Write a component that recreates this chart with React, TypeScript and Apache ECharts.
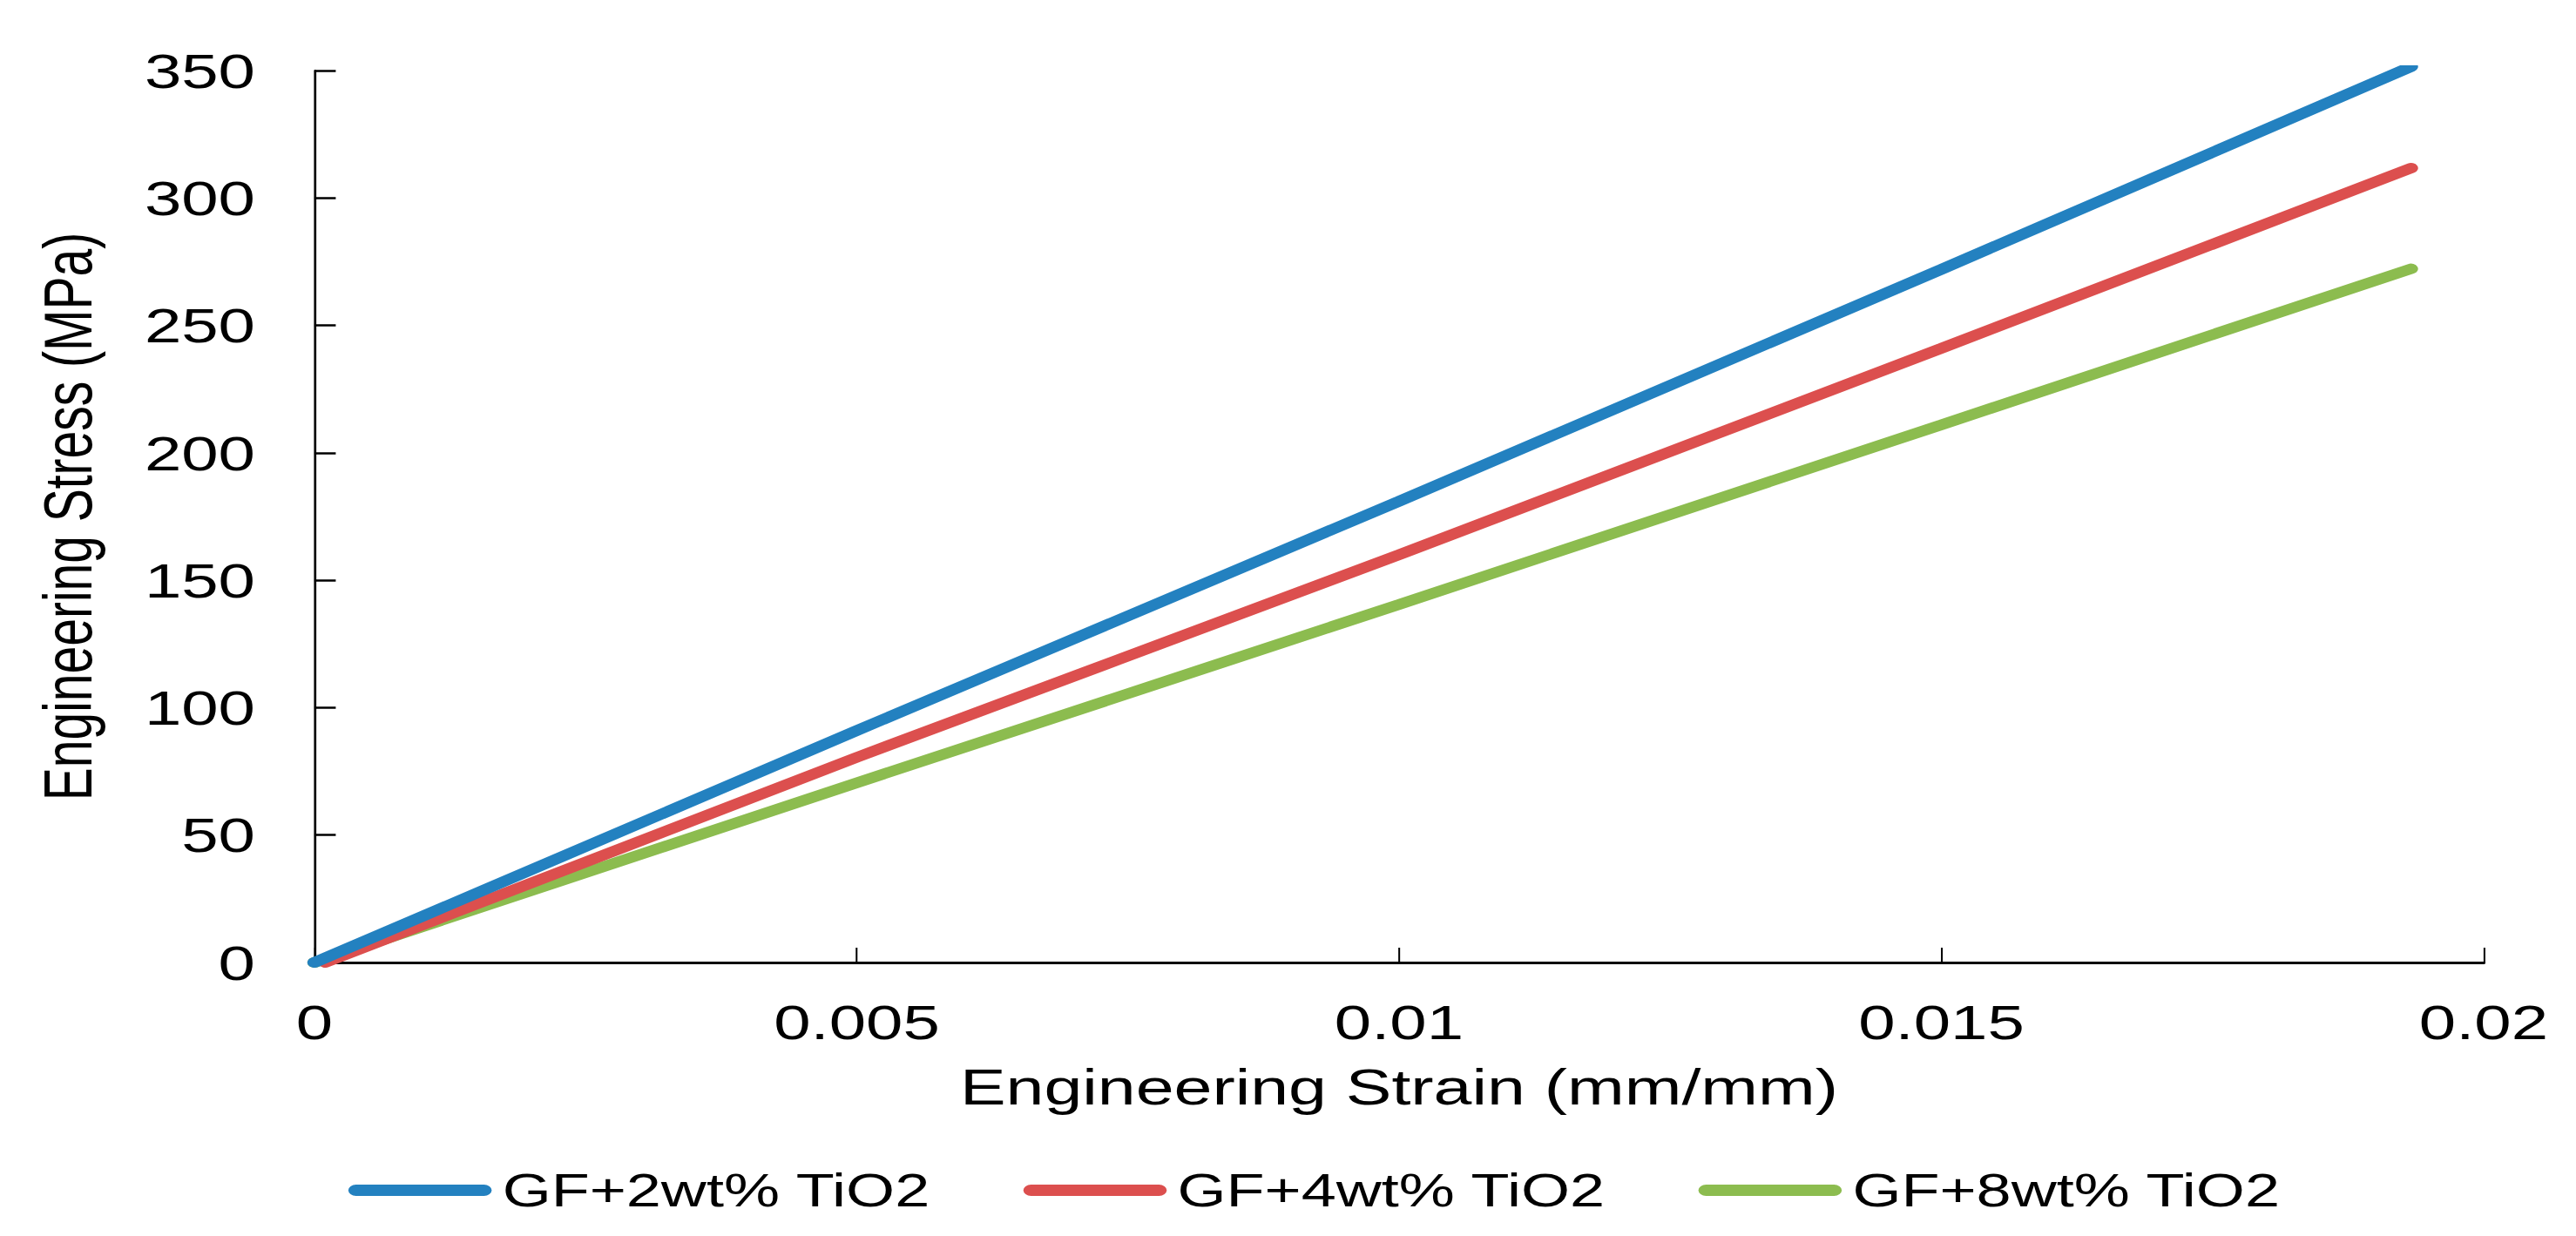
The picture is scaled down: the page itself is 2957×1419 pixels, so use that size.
import React, { useEffect, useRef } from "react";
import * as echarts from "echarts";

// Data (strain in mm/mm, stress in MPa)
const strain2 = [0, 0.005, 0.01, 0.015, 0.01933];
const stress2 = [0, 91, 181, 272, 351.5];
const strain4 = [0.0001, 0.005, 0.01, 0.015, 0.01933];
const stress4 = [0, 80.5, 160, 241, 311.7];
const strain8 = [0, 0.005, 0.01, 0.015, 0.01933];
const stress8 = [0, 70.5, 140.5, 211, 272.2];

const seriesNames = ["GF+2wt% TiO2", "GF+4wt% TiO2", "GF+8wt% TiO2"];
const seriesColors = ["#2381C0", "#DC4F4E", "#8CBC4F"];

const xTitle = "Engineering Strain (mm/mm)";
const yTitle = "Engineering Stress (MPa)";

// The reference is horizontally stretched; render narrower and stretch back.
const STRETCH = 1.36;
const FULL_W = 2957;
const FULL_H = 1419;
const BASE_W = Math.round(FULL_W / STRETCH);

const FONT = "'Liberation Sans', Arial, sans-serif";
const CAPSULE = "path://M6.5,0 L114.5,0 A6.5,6.5 0 0 1 114.5,13 L6.5,13 A6.5,6.5 0 0 1 6.5,0 Z";

function pairs(xs: number[], ys: number[]) {
  return xs.map((x, i) => [x, ys[i]]);
}

export default function App() {
  const ref = useRef<HTMLDivElement>(null);

  useEffect(() => {
    document.body.style.margin = "0";
    document.body.style.overflow = "hidden";
    if (!ref.current) return;
    const chart = echarts.init(ref.current, undefined, { renderer: "svg" });
    const datasets = [
      pairs(strain2, stress2),
      pairs(strain4, stress4),
      pairs(strain8, stress8),
    ];
    chart.setOption({
      animation: false,
      backgroundColor: "#ffffff",
      textStyle: { fontFamily: FONT, color: "#000" },
      grid: { left: 265.4, right: BASE_W - 2096.3, top: 81, bottom: FULL_H - 1105, containLabel: false },
      legend: {
        left: 289,
        top: 1335,
        itemWidth: 121,
        itemHeight: 13,
        itemGap: 78,
        icon: CAPSULE,
        textStyle: { fontFamily: FONT, fontSize: 53, color: "#000", padding: [0, 0, 0, 4] },
        data: seriesNames.map((n, i) => ({
          name: n,
          icon: CAPSULE,
          itemStyle: { color: seriesColors[i], borderWidth: 0 },
        })),
      },
      xAxis: {
        type: "value",
        min: 0,
        max: 0.02,
        interval: 0.005,
        name: xTitle,
        nameLocation: "middle",
        nameGap: 114,
        nameTextStyle: { fontFamily: FONT, fontSize: 58, color: "#000" },
        axisLine: { show: true, onZero: false, lineStyle: { color: "#000", width: 3 } },
        axisTick: { show: true, inside: true, length: 17, lineStyle: { color: "#000", width: 1.5 } },
        axisLabel: {
          fontFamily: FONT,
          fontSize: 56,
          color: "#000",
          margin: 40,
          formatter: (v: number) => String(parseFloat(v.toFixed(4))),
        },
        splitLine: { show: false },
      },
      yAxis: {
        type: "value",
        min: 0,
        max: 350,
        interval: 50,
        name: yTitle,
        nameLocation: "middle",
        nameGap: 180,
        nameTextStyle: { fontFamily: FONT, fontSize: 57, color: "#000" },
        axisLine: { show: true, lineStyle: { color: "#000", width: 2 } },
        axisTick: { show: true, inside: true, length: 18, lineStyle: { color: "#000", width: 2.5 } },
        axisLabel: { fontFamily: FONT, fontSize: 56, color: "#000", margin: 50 },
        splitLine: { show: false },
      },
      series: seriesNames.map((name, i) => ({
        name,
        type: "line",
        data: datasets[i],
        showSymbol: false,
        symbol: "none",
        clip: true,
        color: seriesColors[i],
        lineStyle: { color: seriesColors[i], width: 12, cap: "round" },
        itemStyle: { color: seriesColors[i] },
        z: 10 - i,
      })),
    });
    return () => {
      chart.dispose();
    };
  }, []);

  return (
    <div
      ref={ref}
      style={{
        width: BASE_W,
        height: FULL_H,
        transform: `scaleX(${STRETCH})`,
        transformOrigin: "0 0",
      }}
    />
  );
}
